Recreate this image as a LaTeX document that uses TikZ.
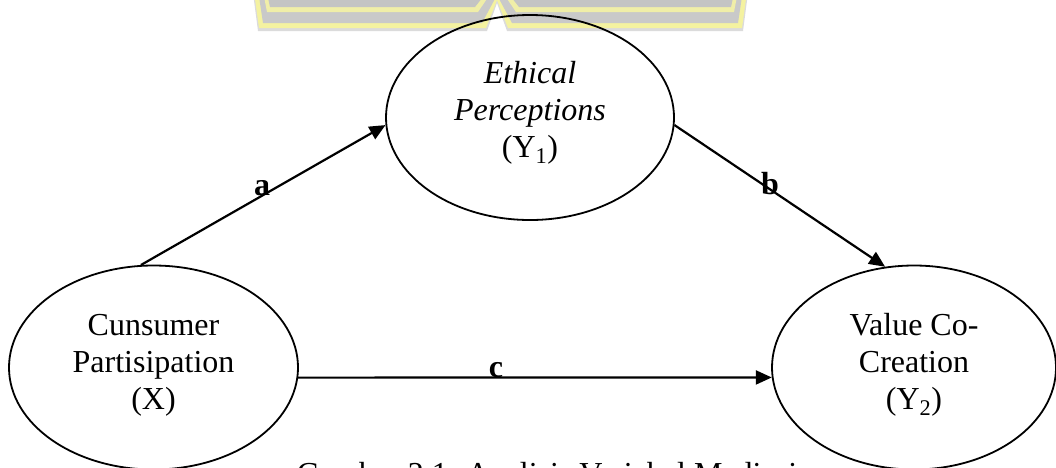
\documentclass[tikz,border=0pt]{standalone}
\usepackage{fontspec}
\setmainfont{Liberation Serif}
\usetikzlibrary{shapes.geometric,arrows.meta}
\begin{document}
\begin{tikzpicture}[x=1pt,y=-1pt,
  var/.style={ellipse,draw=black,line width=1.8pt,inner sep=0pt},
  vtext/.style={align=center,inner sep=0pt,font=\fontsize{32}{37}\selectfont},
  arr/.style={line width=2.2pt,-{Triangle[length=16pt,width=14pt]}},
  lab/.style={font=\fontsize{32}{36}\selectfont\bfseries,inner sep=0pt,anchor=base},
  captext/.style={font=\fontsize{32}{36}\selectfont,inner sep=0pt,anchor=base}]
\useasboundingbox (0,0) rectangle (1056,467);
% watermark (faded logo at the top)
\fill[fill=black!14] (250,-30) -- (258,31) -- (487,31) -- (497,3) -- (507,31) -- (743,31) -- (751,-30) -- cycle;
\fill[fill={rgb,255:red,244;green,242;blue,160}] (251,-30) -- (259,28) -- (486,28) -- (497,0) -- (508,28) -- (742,28) -- (750,-30) -- cycle;
\fill[fill=black!21] (255,-30) -- (263,23) -- (482,23) -- (497,-5) -- (512,23) -- (738,23) -- (746,-30) -- cycle;
\fill[fill={rgb,255:red,240;green,238;blue,168}] (259,-30) -- (267,12) -- (478,12) -- (497,-16) -- (516,12) -- (734,12) -- (742,-30) -- cycle;
\fill[fill=black!23] (262,-30) -- (270,7) -- (475,7) -- (497,-21) -- (519,7) -- (731,7) -- (739,-30) -- cycle;
% variables
\node[var,minimum width=288pt,minimum height=205pt] (Y1) at (530,117.5) {};
\node[var,minimum width=289pt,minimum height=204pt] (X) at (153.5,367.5) {};
\node[var,minimum width=284pt,minimum height=204pt] (Y2) at (914,367.5) {};
\node[vtext] (Y1t) at ([yshift=5pt]Y1.center)
  {\textit{Ethical}\\\textit{Perceptions}\\(Y\textsubscript{1})};
\node[vtext] (Xt) at ([yshift=2pt]X.center)
  {Cunsumer\\Partisipation\\(X)};
\node[vtext] (Y2t) at ([yshift=3pt]Y2.center)
  {Value Co-\\Creation\\(Y\textsubscript{2})};
% paths
\draw[arr] (X.97) -- (Y1.183);
\draw[arr] (Y1.357) -- (Y2.106);
\draw[arr] (X.-4) -- (Y2.184);
% path labels
\node[lab] (la) at (262,195) {a};
\node[lab] (lb) at (770,194) {b};
\node[lab] (lc) at (496,377) {c};
% caption (cut off by the lower edge, as in the reference)
\node[captext] (caption) at (547,484) {Gambar 2.1. Analisis Variabel Mediasi};
\end{tikzpicture}
\end{document}
